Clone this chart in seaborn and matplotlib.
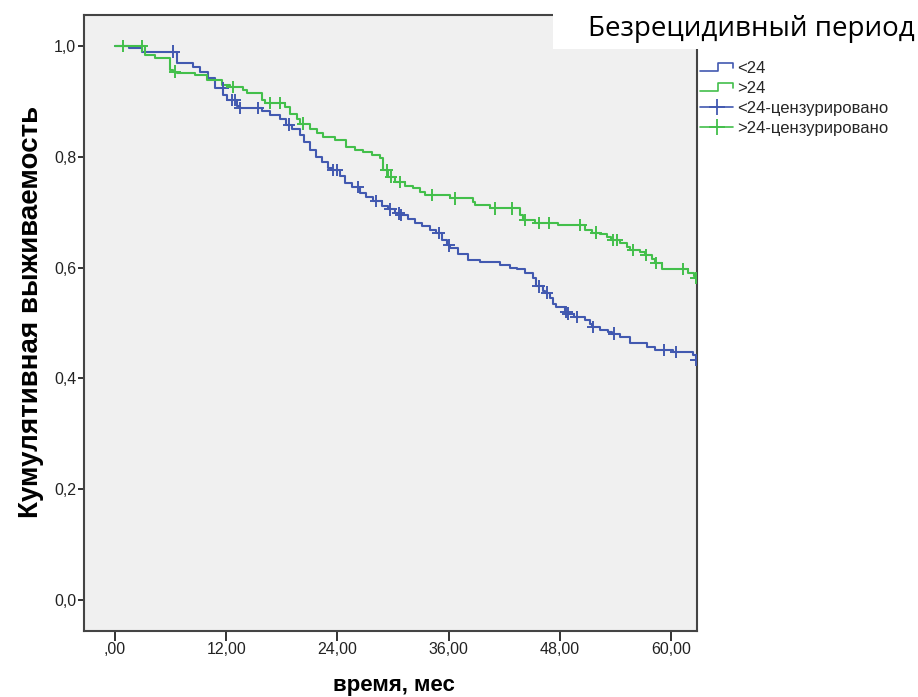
import numpy as np
import pandas as pd
import matplotlib
matplotlib.use("Agg")
import matplotlib.pyplot as plt
import seaborn as sns
from matplotlib.lines import Line2D
from matplotlib.legend_handler import HandlerBase
from matplotlib.patches import Rectangle

# ---------------- data ----------------
title_text = "Безрецидивный период"
xlabel_text = "время, мес"
ylabel_text = "Кумулятивная выживаемость"
group_labels = ["<24", ">24"]
legend_labels = ["<24", ">24", "<24-цензурировано", ">24-цензурировано"]
x_ticks = [0, 12, 24, 36, 48, 60]
x_tick_labels = [",00", "12,00", "24,00", "36,00", "48,00", "60,00"]
y_ticks = [0.0, 0.2, 0.4, 0.6, 0.8, 1.0]
y_tick_labels = ["0,0", "0,2", "0,4", "0,6", "0,8", "1,0"]

# group <24 : event times and survival after each event
lt24_time = [0.0, 1.5, 2.9, 6.7, 8.4, 9.2, 10.0, 10.8, 11.7, 12.1, 13.2, 13.5,
             15.9, 16.7, 17.8, 18.4, 19.1, 20.0, 20.4, 21.0, 21.7, 22.3, 23.0, 23.4,
             24.3, 24.8, 25.6, 26.4, 27.1, 27.8, 28.8, 29.5, 30.2, 30.7, 31.6, 32.4,
             33.1, 34.0, 34.6, 35.3, 35.8, 36.1, 37.0, 38.1, 39.4, 41.5, 42.6, 43.4,
             44.2, 45.1, 45.4, 46.2, 46.4, 46.9, 47.2, 47.6, 48.5, 48.8, 49.5, 50.7,
             51.2, 51.5, 52.3, 53.2, 53.6, 54.5, 55.6, 57.4, 58.3, 60.2, 62.4, 62.7]
lt24_surv = [1.000, 0.996, 0.990, 0.970, 0.963, 0.954, 0.942, 0.924, 0.911, 0.903, 0.892, 0.888,
             0.882, 0.876, 0.868, 0.858, 0.850, 0.840, 0.826, 0.812, 0.800, 0.790, 0.780, 0.776,
             0.765, 0.752, 0.745, 0.735, 0.727, 0.720, 0.711, 0.705, 0.698, 0.695, 0.688, 0.680,
             0.675, 0.668, 0.662, 0.650, 0.640, 0.635, 0.625, 0.614, 0.611, 0.605, 0.600, 0.597,
             0.590, 0.581, 0.566, 0.558, 0.555, 0.545, 0.535, 0.529, 0.520, 0.517, 0.511, 0.505,
             0.499, 0.493, 0.488, 0.484, 0.481, 0.474, 0.463, 0.457, 0.451, 0.448, 0.442, 0.433]
lt24_censor = [6.3, 11.6, 12.6, 12.9, 13.5, 15.4, 18.8, 23.5, 23.9, 26.2, 28.2, 29.7,
               30.6, 30.9, 34.9, 36.0, 45.7, 46.6, 48.7, 48.9, 49.8, 51.6, 53.8, 59.2,
               60.5, 62.7]

# group >24
gt24_time = [0.0, 3.2, 4.3, 5.9, 6.3, 6.7, 8.6, 9.9, 11.5, 12.4, 13.8, 14.2,
             15.9, 16.2, 18.3, 18.9, 19.6, 20.0, 21.0, 21.8, 22.4, 23.7, 24.9, 25.9,
             26.8, 27.7, 28.6, 28.9, 29.5, 30.2, 31.3, 32.1, 32.9, 33.4, 36.1, 38.6,
             38.8, 40.5, 43.7, 44.0, 45.3, 47.8, 50.7, 51.5, 52.3, 53.1, 53.5, 54.5,
             55.2, 55.6, 56.6, 57.2, 57.9, 58.2, 59.0, 61.8, 62.5, 62.6]
gt24_surv = [1.000, 0.984, 0.978, 0.957, 0.954, 0.951, 0.948, 0.939, 0.930, 0.926, 0.920, 0.915,
             0.903, 0.897, 0.890, 0.878, 0.868, 0.860, 0.850, 0.843, 0.836, 0.830, 0.818, 0.813,
             0.809, 0.803, 0.797, 0.776, 0.764, 0.755, 0.748, 0.743, 0.737, 0.731, 0.725, 0.719,
             0.713, 0.707, 0.695, 0.686, 0.680, 0.677, 0.668, 0.663, 0.660, 0.656, 0.650, 0.644,
             0.638, 0.632, 0.628, 0.623, 0.615, 0.608, 0.597, 0.590, 0.584, 0.581]
gt24_censor = [0.9, 2.9, 6.5, 12.7, 16.7, 17.8, 20.3, 29.3, 29.8, 30.7, 34.2, 36.7,
               41.0, 42.8, 44.2, 45.7, 46.8, 50.2, 51.9, 53.7, 54.1, 55.9, 57.3, 58.4,
               61.3, 62.7]

colors = {"<24": "#4259b0", ">24": "#43bf4b"}

# ---------------- frames ----------------
curve_df = pd.concat([
    pd.DataFrame({"time": lt24_time, "surv": lt24_surv, "group": "<24"}),
    pd.DataFrame({"time": gt24_time, "surv": gt24_surv, "group": ">24"}),
], ignore_index=True)


def surv_at(times, survs, t):
    idx = np.searchsorted(np.asarray(times), np.asarray(t), side="right") - 1
    return np.asarray(survs)[idx]


cens_df = pd.concat([
    pd.DataFrame({"time": lt24_censor,
                  "surv": surv_at(lt24_time, lt24_surv, lt24_censor), "group": "<24"}),
    pd.DataFrame({"time": gt24_censor,
                  "surv": surv_at(gt24_time, gt24_surv, gt24_censor), "group": ">24"}),
], ignore_index=True)

# ---------------- plot ----------------
sns.set_theme(style="white")
plt.rcParams["font.family"] = ["Liberation Sans", "DejaVu Sans"]

fig = plt.figure(figsize=(9.18, 6.97), dpi=100)
ax = fig.add_axes([84 / 918, 1 - 631 / 697, (697 - 84) / 918, (631 - 15) / 697])
ax.set_facecolor("#f0f0f0")

sns.lineplot(data=curve_df, x="time", y="surv", hue="group", palette=colors,
             drawstyle="steps-post", estimator=None, sort=False, linewidth=1.5,
             legend=False, ax=ax)
sns.scatterplot(data=cens_df, x="time", y="surv", hue="group", palette=colors,
                marker="+", s=80, linewidth=1.4, legend=False, ax=ax, zorder=3)

ax.set_xlim(-3.34, 62.78)
ax.set_ylim(-0.056, 1.056)
ax.set_xticks(x_ticks)
ax.set_xticklabels(x_tick_labels)
ax.set_yticks(y_ticks)
ax.set_yticklabels(y_tick_labels)
ax.tick_params(axis="x", direction="out", length=7.5, width=1.4, color="#333333",
               labelsize=11.5, pad=0.5, labelcolor="#222222", bottom=True)
ax.tick_params(axis="y", direction="out", length=4.5, width=1.4, color="#333333",
               labelsize=11.5, pad=1, labelcolor="#222222", left=True)
for s in ax.spines.values():
    s.set_color("#444444")
    s.set_linewidth(1.5)

ax.set_xlabel("")
ax.set_ylabel(ylabel_text, fontsize=20, fontweight="bold", color="black")
ax.yaxis.set_label_coords(-0.066, 0.518)
fig.text(394 / 918, 0.5 / 697, xlabel_text, ha="center", va="bottom",
         fontsize=16, fontweight="bold", color="black")


class StepHandler(HandlerBase):
    def create_artists(self, legend, orig_handle, xdescent, ydescent, width, height,
                       fontsize, trans):
        x0 = -xdescent
        y0 = -ydescent
        xs = [x0, x0 + 0.55 * width, x0 + 0.55 * width, x0 + width, x0 + width]
        ys = [y0 + 0.15 * height, y0 + 0.15 * height, y0 + 0.85 * height,
              y0 + 0.85 * height, y0 + 0.45 * height]
        ln = Line2D(xs, ys, color=orig_handle.get_color(), lw=1.2, transform=trans)
        return [ln]


h_lt = Line2D([], [], color=colors["<24"])
h_gt = Line2D([], [], color=colors[">24"])
h_lt_c = Line2D([], [], color=colors["<24"], marker="+", markersize=12, mew=1.3, lw=1.2)
h_gt_c = Line2D([], [], color=colors[">24"], marker="+", markersize=12, mew=1.3, lw=1.2)
fig.legend([h_lt, h_gt, h_lt_c, h_gt_c], legend_labels,
           handler_map={h_lt: StepHandler(), h_gt: StepHandler()},
           loc="upper left", bbox_to_anchor=(700 / 918, 1 - 61 / 697),
           frameon=False, fontsize=12, handlelength=2.0, handletextpad=0.2,
           labelspacing=0.3, borderaxespad=0, borderpad=0)

# title box in the upper right
fig.add_artist(Rectangle((553 / 918, 1 - 49 / 697), 1 - 553 / 918, 49 / 697,
                         transform=fig.transFigure, facecolor="white",
                         edgecolor="none", zorder=5))
fig.text(915 / 918, 1 - 29 / 697, title_text, ha="right", va="center",
         fontsize=20, family=["Open Sans", "DejaVu Sans"], color="black", zorder=6)

fig.savefig("out.png", dpi=100)
